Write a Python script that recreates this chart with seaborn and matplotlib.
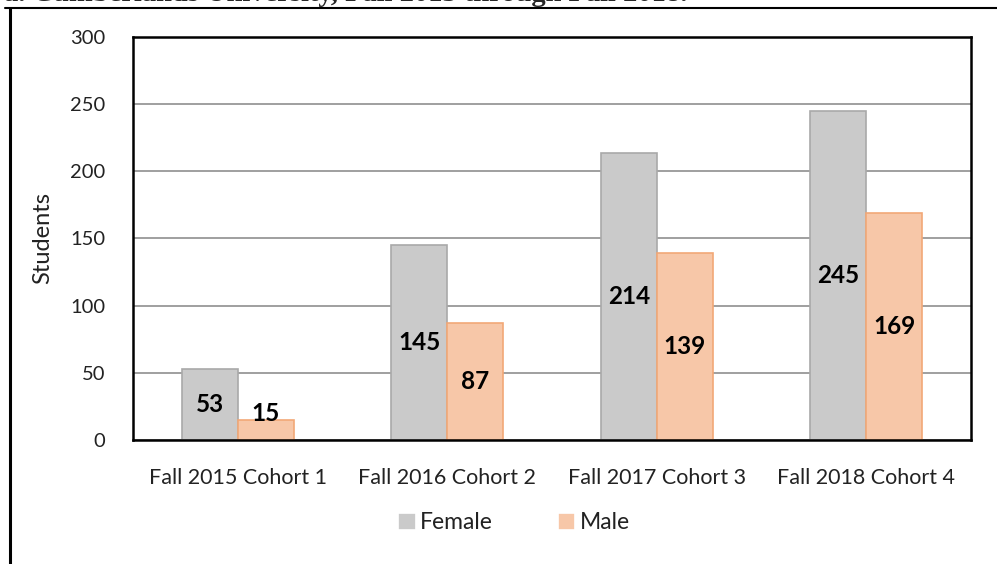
import pandas as pd
import seaborn as sns
import matplotlib.pyplot as plt
from matplotlib.lines import Line2D

cohorts = ['Fall 2015 Cohort 1', 'Fall 2016 Cohort 2', 'Fall 2017 Cohort 3', 'Fall 2018 Cohort 4']
female = [53, 145, 214, 245]
male = [15, 87, 139, 169]
genders = ['Female', 'Male']
y_ticks = [0, 50, 100, 150, 200, 250, 300]

fill_colors = {'Female': '#CACACA', 'Male': '#F7C7A8'}
edge_colors = {'Female': '#A9A9A9', 'Male': '#F2A877'}

df = pd.DataFrame({
    'cohort': cohorts * 2,
    'gender': ['Female'] * len(cohorts) + ['Male'] * len(cohorts),
    'students': female + male,
})

sns.set_style("white")
plt.rcParams['font.family'] = ['Lato', 'DejaVu Sans']

fig = plt.figure(figsize=(9.97, 5.64), dpi=100)
ax = fig.add_axes([0.1334, 0.2199, 0.8405, 0.7145])

sns.barplot(data=df, x='cohort', y='students', hue='gender', palette=fill_colors,
            width=0.535, saturation=1, ax=ax, errorbar=None, linewidth=1.2, zorder=3)

# per-series edge colours and value labels (Excel keeps short-bar labels a bit higher)
for container, g in zip(ax.containers, genders):
    for patch in container:
        patch.set_edgecolor(edge_colors[g])
        h = patch.get_height()
        ax.text(patch.get_x() + patch.get_width() / 2, max(h / 2, 20), f'{h:.0f}',
                ha='center', va='center', fontsize=17.5, fontweight='bold',
                color='black', zorder=6)

ax.set_ylim(0, 300)
ax.set_yticks(y_ticks)
ax.yaxis.grid(True, color='#858585', linewidth=1.1, zorder=0)
ax.set_axisbelow(True)
for side in ['top', 'bottom', 'left', 'right']:
    ax.spines[side].set_visible(True)
    ax.spines[side].set_color('black')
    ax.spines[side].set_linewidth(1.8)
    ax.spines[side].set_zorder(5)

ax.tick_params(axis='y', length=0, labelsize=14.5, colors='#222222', pad=20)
ax.tick_params(axis='x', length=0, labelsize=15.5, colors='#222222', pad=20)
ax.set_xlabel('')
ax.set_ylabel('Students', fontsize=17, color='#222222', labelpad=12)

ax.legend(loc='upper center', bbox_to_anchor=(0.455, -0.128), ncol=2, frameon=False,
          fontsize=16.5, handlelength=0.75, handleheight=0.75, handletextpad=0.2,
          columnspacing=2.85, labelcolor='#222222')

# cut-off caption and page frame from the source document
fig.text(0.004, 0.9985, 'a. Cumberlands University, Fall 2015 through Fall 2018.',
         fontsize=20.5, fontweight='bold', family='Liberation Serif', va='baseline')
fig.add_artist(Line2D([0.005, 1.0], [0.9858, 0.9858], color='black', linewidth=1.5))
fig.add_artist(Line2D([0.0105, 0.0105], [0.0, 0.9858], color='black', linewidth=2.2))

plt.savefig('out.png', dpi=100)
plt.close()
